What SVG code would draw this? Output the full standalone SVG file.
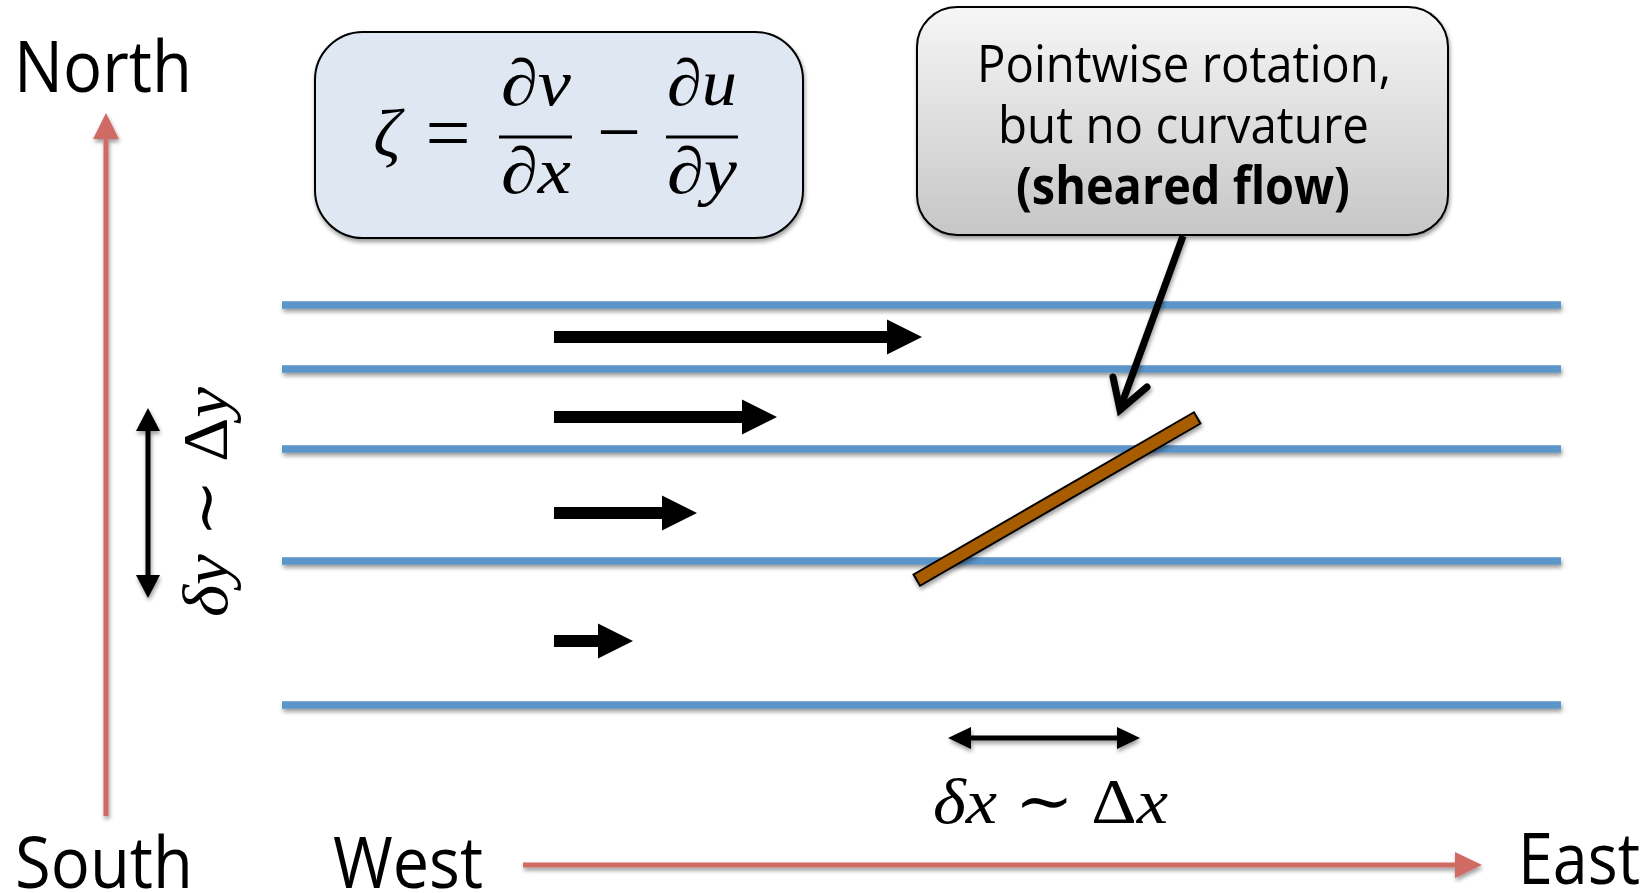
<svg xmlns="http://www.w3.org/2000/svg" width="1651" height="893" viewBox="0 0 1651 893">
<style>
.lbl{font-family:"Open Sans","Noto Sans",sans-serif;fill:#000}
.math{font-family:"Liberation Serif","DejaVu Serif",serif;font-style:italic;fill:#000}
.up{font-style:normal}
.flow{stroke:#5b95c9;stroke-width:7.5;fill:none}
.compass{stroke:#d06b65;stroke-width:5;fill:none}
.blk{fill:#000}
</style>
<defs>
<filter id="sh" filterUnits="userSpaceOnUse" x="0" y="0" width="1651" height="893">
<feGaussianBlur in="SourceAlpha" stdDeviation="2.2"/>
<feOffset dx="1" dy="3"/>
<feComponentTransfer><feFuncA type="linear" slope="0.4"/></feComponentTransfer>
<feMerge><feMergeNode/><feMergeNode in="SourceGraphic"/></feMerge>
</filter>
<linearGradient id="gray" x1="0" y1="0" x2="0" y2="1">
<stop offset="0" stop-color="#f6f6f6"/>
<stop offset="1" stop-color="#c6c6c6"/>
</linearGradient>
</defs>
<rect width="1651" height="893" fill="#fff"/>

<g id="compass" filter="url(#sh)">
<line class="compass" x1="106" y1="816" x2="106" y2="136"/>
<polygon fill="#d06b65" points="106,113 93,139 119,139"/>
<line class="compass" x1="523" y1="865" x2="1458" y2="865"/>
<polygon fill="#d06b65" points="1482,865 1455,852 1455,878"/>
</g>
<g id="label-north"><text class="lbl" x="14" y="92" font-size="72" textLength="178" lengthAdjust="spacingAndGlyphs">North</text></g>
<g id="label-south"><text class="lbl" x="15" y="888" font-size="72" textLength="178" lengthAdjust="spacingAndGlyphs">South</text></g>
<g id="label-west"><text class="lbl" x="333" y="888" font-size="72" textLength="150" lengthAdjust="spacingAndGlyphs">West</text></g>
<g id="label-east"><text class="lbl" x="1518" y="884" font-size="72" textLength="122" lengthAdjust="spacingAndGlyphs">East</text></g>

<g id="streamlines" filter="url(#sh)">
<line class="flow" x1="282" y1="305" x2="1561" y2="305"/>
<line class="flow" x1="282" y1="369" x2="1561" y2="369"/>
<line class="flow" x1="282" y1="449" x2="1561" y2="449"/>
<line class="flow" x1="282" y1="561" x2="1561" y2="561"/>
<line class="flow" x1="282" y1="705" x2="1561" y2="705"/>
</g>

<g id="velocity-arrows">
<polygon class="blk" points="554,331 887,331 887,319.5 922,337 887,354.5 887,343 554,343"/>
<polygon class="blk" points="554,411 742,411 742,399.5 777,417 742,434.5 742,423 554,423"/>
<polygon class="blk" points="554,507 662,507 662,495.5 697,513 662,530.5 662,519 554,519"/>
<polygon class="blk" points="554,635 598,635 598,623.5 633,641 598,658.5 598,647 554,647"/>
</g>

<g id="formula-box">
<rect x="315" y="32" width="488" height="206" rx="48" fill="#dfe8f2" stroke="#000" stroke-width="2" filter="url(#sh)"/>
<text class="math" x="387" y="156" font-size="68" text-anchor="middle">ζ</text>
<text class="math up" x="448" y="160" font-size="80" text-anchor="middle">=</text>
<text class="math" x="501" y="105" font-size="66" textLength="70" lengthAdjust="spacingAndGlyphs">∂v</text>
<line x1="499" y1="137" x2="572" y2="137" stroke="#000" stroke-width="3"/>
<text class="math" x="501" y="193" font-size="66" textLength="70" lengthAdjust="spacingAndGlyphs">∂x</text>
<text class="math up" x="619" y="158" font-size="78" text-anchor="middle">−</text>
<text class="math" x="667" y="105" font-size="66" textLength="70" lengthAdjust="spacingAndGlyphs">∂u</text>
<line x1="666" y1="137" x2="738" y2="137" stroke="#000" stroke-width="3"/>
<text class="math" x="667" y="193" font-size="66" textLength="70" lengthAdjust="spacingAndGlyphs">∂y</text>
</g>

<g id="callout">
<rect x="917" y="7" width="531" height="228" rx="40" fill="url(#gray)" stroke="#000" stroke-width="2" filter="url(#sh)"/>
<text class="lbl" x="977" y="82" font-size="52" textLength="414" lengthAdjust="spacingAndGlyphs">Pointwise rotation,</text>
<text class="lbl" x="998" y="143" font-size="52" textLength="371" lengthAdjust="spacingAndGlyphs">but no curvature</text>
<text class="lbl" x="1016" y="204" font-size="52" font-weight="700" textLength="334" lengthAdjust="spacingAndGlyphs">(sheared flow)</text>
</g>

<g id="connectors" filter="url(#sh)">
<line x1="1183" y1="236" x2="1121" y2="406" stroke="#000" stroke-width="7"/>
<polyline points="1113,377 1120,410 1147,387" fill="none" stroke="#000" stroke-width="7" stroke-linecap="round" stroke-linejoin="miter"/>
</g>

<g id="fluid-element" filter="url(#sh)">
<rect x="-162" y="-6.5" width="324" height="13" fill="#a75b02" stroke="#000" stroke-width="2" transform="translate(1057,499) rotate(-30.05)"/>
</g>

<g id="dy-scale">
<g filter="url(#sh)">
<line x1="148" y1="428" x2="148" y2="578" stroke="#000" stroke-width="5"/>
<polygon class="blk" points="148,408 136,431 160,431"/>
<polygon class="blk" points="148,598 136,575 160,575"/>
</g>
<text class="math" font-size="64" transform="translate(227,617) rotate(-90)" textLength="230" lengthAdjust="spacingAndGlyphs">δy <tspan class="up">∼ Δ</tspan>y</text>
</g>

<g id="dx-scale">
<g filter="url(#sh)">
<line x1="968" y1="738" x2="1120" y2="738" stroke="#000" stroke-width="5"/>
<polygon class="blk" points="948,738 971,727 971,749"/>
<polygon class="blk" points="1140,738 1117,727 1117,749"/>
</g>
<text class="math" x="933" y="823" font-size="64" textLength="235" lengthAdjust="spacingAndGlyphs">δx <tspan class="up">∼ Δ</tspan>x</text>
</g>
</svg>
